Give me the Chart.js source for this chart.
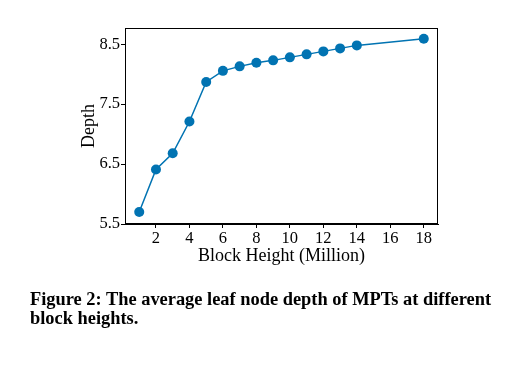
<!DOCTYPE html>
<html><head><meta charset="utf-8">
<script src="https://cdn.jsdelivr.net/npm/chart.js@4"></script>
<style>
html,body{margin:0;padding:0;background:#fff;}
#wrap{position:relative;width:524px;height:367px;}
#cap{position:absolute;left:30px;top:290px;width:485px;font-family:"Liberation Serif","Times New Roman",serif;font-weight:bold;font-size:18.4px;line-height:18.6px;color:#000;}
</style></head>
<body>
<div id="wrap"><canvas id="c" width="524" height="367"></canvas>
<div id="cap">Figure 2: The average leaf node depth of MPTs at different block heights.</div></div>
<script>
const blockHeights = [1,2,3,4,5,6,7,8,9,10,11,12,13,14,18];
const depths = [5.70,6.41,6.68,7.21,7.87,8.055,8.13,8.19,8.23,8.28,8.33,8.38,8.43,8.48,8.59];
const xTicks = [2,4,6,8,10,12,14,16,18];
const yTicks = [5.5,6.5,7.5,8.5];
const FONT = "'Liberation Serif','Times New Roman',serif";

const frame = {
  id:'frame',
  afterDraw(chart){
    const {ctx, chartArea:a} = chart;
    ctx.save(); ctx.strokeStyle='#000'; ctx.lineWidth=1;
    ctx.strokeRect(a.left+0.5, a.top+0.5, a.right-a.left-1, a.bottom-a.top-1);
    ctx.restore();
  }
};

new Chart(document.getElementById('c'), {
  type:'line',
  data:{datasets:[{
    data: blockHeights.map((x,i)=>({x:x,y:depths[i]})),
    borderColor:'#0173b2', backgroundColor:'#0173b2',
    borderWidth:1.5, pointRadius:5, pointHoverRadius:5,
    pointBorderWidth:0, tension:0, fill:false
  }]},
  options:{
    responsive:false, animation:false, events:[],
    layout:{padding:{left:0, top:28, right:86, bottom:98}},
    plugins:{legend:{display:false}, tooltip:{enabled:false}},
    scales:{
      x:{type:'linear', min:0.15, max:18.85,
        afterBuildTicks(s){ s.ticks = xTicks.map(v=>({value:v})); },
        afterFit(s){ s.height = 45; },
        grid:{drawOnChartArea:false, drawTicks:true, tickLength:4, tickColor:'#000', color:'#000'},
        border:{display:true, color:'#000'},
        ticks:{color:'#000', font:{family:FONT, size:16.5}, padding:1, maxRotation:0, autoSkip:false},
        title:{display:true, text:'Block Height (Million)', color:'#000', font:{family:FONT, size:18}, padding:{top:0,bottom:2}}
      },
      y:{type:'linear', min:5.5, max:8.77,
        afterBuildTicks(s){ s.ticks = yTicks.map(v=>({value:v})); },
        afterFit(s){ s.width = 125; },
        grid:{drawOnChartArea:false, drawTicks:true, tickLength:4, tickColor:'#000', color:'#000'},
        border:{display:true, color:'#000'},
        ticks:{color:'#000', font:{family:FONT, size:16.5}, padding:1, callback:v=>v.toFixed(1)},
        title:{display:true, text:'Depth', color:'#000', font:{family:FONT, size:18}, padding:{top:78,bottom:0}}
      }
    }
  },
  plugins:[frame]
});
</script>
</body></html>
